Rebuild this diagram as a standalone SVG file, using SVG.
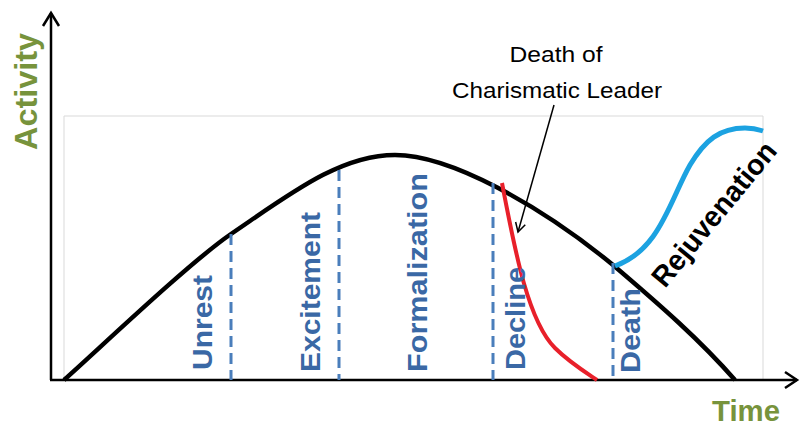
<svg xmlns="http://www.w3.org/2000/svg" width="801" height="428" viewBox="0 0 801 428">
<defs>
<style>
.axis{stroke:#000;stroke-width:2.5;fill:none}
.frame{stroke:#d9d9d9;stroke-width:1;fill:none}
.dash{stroke:#4a7ebb;stroke-width:3;stroke-dasharray:11 6;fill:none}
.phase{font-family:"Liberation Sans",Arial,sans-serif;font-weight:bold;font-size:28px;fill:#3a68a5}
.axlabel{font-family:"Liberation Sans",Arial,sans-serif;font-weight:bold;font-size:31px;fill:#77933c}
.note{font-family:"Liberation Sans",Arial,sans-serif;font-size:22px;fill:#000}
</style>
<marker id="open" viewBox="0 0 12 12" refX="10" refY="6" markerWidth="12" markerHeight="12" markerUnits="userSpaceOnUse" orient="auto">
<path d="M1,1 L10,6 L1,11" fill="none" stroke="#000" stroke-width="1.5"/>
</marker>
</defs>
<rect width="801" height="428" fill="#fff"/>
<g id="frame"><path class="frame" d="M64,380 V116 H763 V380"/></g>
<g id="axes">
<path class="axis" d="M51,380 V13"/>
<path class="axis" d="M43,26 L51,13 L59,26"/>
<path class="axis" d="M50,380 H797"/>
<path class="axis" d="M785,372 L797,380 L785,388"/>
</g>
<g id="label-activity"><text class="axlabel" transform="translate(37,150) rotate(-90)" textLength="117" lengthAdjust="spacingAndGlyphs">Activity</text></g>
<g id="label-time"><text class="axlabel" x="712" y="421" style="font-size:30px" textLength="68" lengthAdjust="spacingAndGlyphs">Time</text></g>
<g id="connectors">
<path d="M64,380 C100,348 190,262 231,234 C290,194 340,155 395,155 C450,155 540,205 613,265 C660,305 700,340 735,380" fill="none" stroke="#000" stroke-width="4.5"/>
<path class="dash" d="M231,234 V380"/>
<path class="dash" d="M339,170 V380"/>
<path class="dash" d="M493,183 V380"/>
<path class="dash" d="M613,263 V380"/>
<path d="M502,183 C514,245 527,320 555,348 C569,362 585,372 597,380" fill="none" stroke="#e8202a" stroke-width="4"/>
<path d="M615,266 C660,250 670,200 690,165 C705,140 720,128 745,128 C755,128 760,130 763,131" fill="none" stroke="#1ca2e1" stroke-width="5"/>
<path d="M554,105 L518,232" fill="none" stroke="#000" stroke-width="1.5" marker-end="url(#open)"/>
</g>
<g id="phase-unrest"><text class="phase" transform="translate(212,370) rotate(-90)" textLength="95" lengthAdjust="spacingAndGlyphs">Unrest</text></g>
<g id="phase-excitement"><text class="phase" transform="translate(320,372) rotate(-90)" textLength="160" lengthAdjust="spacingAndGlyphs">Excitement</text></g>
<g id="phase-formalization"><text class="phase" transform="translate(427,372) rotate(-90)" textLength="199" lengthAdjust="spacingAndGlyphs">Formalization</text></g>
<g id="phase-decline"><text class="phase" transform="translate(525,370) rotate(-90)" textLength="103" lengthAdjust="spacingAndGlyphs">Decline</text></g>
<g id="phase-death"><text class="phase" transform="translate(640,373) rotate(-90)" textLength="85" lengthAdjust="spacingAndGlyphs">Death</text></g>
<g id="rejuvenation"><text transform="translate(665,289) rotate(-50.5)" font-family="'Liberation Sans',Arial,sans-serif" font-weight="bold" font-size="29" fill="#000" textLength="178" lengthAdjust="spacingAndGlyphs">Rejuvenation</text></g>
<g id="note-leader">
<text class="note" x="556" y="62" text-anchor="middle" textLength="93" lengthAdjust="spacingAndGlyphs">Death of</text>
<text class="note" x="557" y="98" text-anchor="middle" textLength="210" lengthAdjust="spacingAndGlyphs">Charismatic Leader</text>
</g>
</svg>
